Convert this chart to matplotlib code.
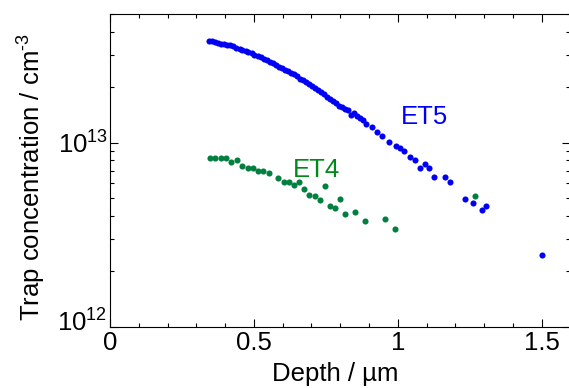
import matplotlib.pyplot as plt
import matplotlib.transforms as mtransforms
from matplotlib.ticker import MultipleLocator, LogLocator, NullFormatter

plt.rcParams['font.family'] = ['Liberation Sans', 'DejaVu Sans']
plt.rcParams['mathtext.fontset'] = 'custom'
plt.rcParams['mathtext.rm'] = 'Liberation Sans'
plt.rcParams['mathtext.it'] = 'Liberation Sans:italic'

# ET5 trap profile (depth in um, concentration in cm^-3)
et5_depth = [0.345, 0.355, 0.366, 0.376, 0.387, 0.397, 0.408, 0.418, 0.429, 0.439,
             0.450, 0.460, 0.471, 0.481, 0.492, 0.502, 0.513, 0.523, 0.534, 0.544,
             0.555, 0.565, 0.576, 0.586, 0.597, 0.607, 0.618, 0.628, 0.639, 0.649,
             0.660, 0.670, 0.681, 0.691, 0.702, 0.712, 0.723, 0.733, 0.744, 0.754,
             0.765, 0.775, 0.786, 0.796, 0.807, 0.817, 0.828, 0.838, 0.848, 0.859,
             0.869, 0.880, 0.891, 0.910, 0.928, 0.945, 0.968, 0.995, 1.009, 1.023,
             1.041, 1.061, 1.078, 1.096, 1.107, 1.125, 1.165, 1.180, 1.232, 1.262,
             1.291, 1.307, 1.502]
et5_conc = [3.55e13, 3.56e13, 3.50e13, 3.49e13, 3.44e13, 3.45e13, 3.40e13, 3.38e13, 3.34e13, 3.28e13,
            3.24e13, 3.19e13, 3.14e13, 3.09e13, 3.05e13, 3.00e13, 2.95e13, 2.91e13, 2.86e13, 2.81e13,
            2.75e13, 2.71e13, 2.65e13, 2.59e13, 2.54e13, 2.49e13, 2.44e13, 2.40e13, 2.35e13, 2.29e13,
            2.23e13, 2.18e13, 2.13e13, 2.08e13, 2.04e13, 1.99e13, 1.94e13, 1.89e13, 1.84e13, 1.77e13,
            1.72e13, 1.68e13, 1.64e13, 1.59e13, 1.56e13, 1.53e13, 1.50e13, 1.41e13, 1.45e13, 1.40e13,
            1.36e13, 1.32e13, 1.27e13, 1.21e13, 1.14e13, 1.09e13, 1.01e13, 9.6e12, 9.3e12, 9.0e12,
            8.4e12, 8.0e12, 7.3e12, 7.7e12, 7.3e12, 6.5e12, 6.5e12, 6.1e12, 4.95e12, 4.7e12,
            4.3e12, 4.5e12, 2.46e12]

# ET4 trap profile
et4_depth = [0.348, 0.365, 0.385, 0.403, 0.421, 0.441, 0.460, 0.478, 0.496, 0.514,
             0.533, 0.551, 0.585, 0.603, 0.623, 0.640, 0.658, 0.675, 0.693, 0.711,
             0.728, 0.746, 0.763, 0.781, 0.800, 0.817, 0.852, 0.887, 0.957, 0.991,
             1.267]
et4_conc = [8.2e12, 8.2e12, 8.2e12, 8.2e12, 7.8e12, 8.0e12, 7.5e12, 7.3e12, 7.3e12, 7.0e12,
            7.0e12, 6.8e12, 6.4e12, 6.1e12, 6.1e12, 5.9e12, 6.1e12, 5.6e12, 5.2e12, 5.1e12,
            4.85e12, 5.8e12, 4.5e12, 4.4e12, 4.95e12, 4.1e12, 4.2e12, 3.75e12, 3.85e12, 3.4e12,
            5.1e12]

blue = '#0000F5'
green = '#007F3F'
fs = 18.5

fig = plt.figure(figsize=(5.69, 3.88), dpi=100)
ax = fig.add_axes([0.1933, 0.158, 0.8093, 0.806])

ax.plot(et5_depth, et5_conc, 'o', color=blue, ms=4.4, mec='none')
ax.plot(et4_depth, et4_conc, 'o', color=green, ms=4.4, mec='none')

ax.text(1.092, 1.38e13, 'ET5', color=blue, fontsize=fs, ha='center', va='center')
ax.text(0.716, 7.07e12, 'ET4', color='#008A1A', fontsize=fs, ha='center', va='center')

ax.set_yscale('log')
ax.set_xlim(0, 1.6)
ax.set_ylim(1e12, 5e13)

ax.xaxis.set_minor_locator(MultipleLocator(0.1))
ax.set_xticks([0, 0.5, 1, 1.5])
ax.set_xticklabels(['0', '0.5', '1', '1.5'])
ax.set_yticks([1e12, 1e13])
ax.set_yticklabels([r'$10^{12}$', r'$10^{13}$'])
ax.yaxis.set_minor_locator(LogLocator(base=10, subs=range(2, 10)))
ax.yaxis.set_minor_formatter(NullFormatter())

ax.tick_params(which='both', direction='in', top=True, right=True, labelsize=fs, width=0.8)
ax.tick_params(which='major', length=6)
ax.tick_params(which='minor', length=3)
ax.tick_params(axis='y', pad=1)
ax.tick_params(axis='x', pad=3)
for s in ax.spines.values():
    s.set_linewidth(0.8)

# nudge the lowest y label up and left so it does not sit on the "0"
lab = ax.get_yticklabels()[0]
lab.set_transform(lab.get_transform() + mtransforms.ScaledTranslation(-2/100, 6/100, fig.dpi_scale_trans))

ax.set_xlabel('Depth / µm', fontsize=fs)
ax.set_ylabel(r'Trap concentration / cm$^{\text{-3}}$', fontsize=fs)
ax.xaxis.set_label_coords(0.49, -0.112)
ax.yaxis.set_label_coords(-0.134, 0.48)

fig.savefig('out.png', dpi=100)
